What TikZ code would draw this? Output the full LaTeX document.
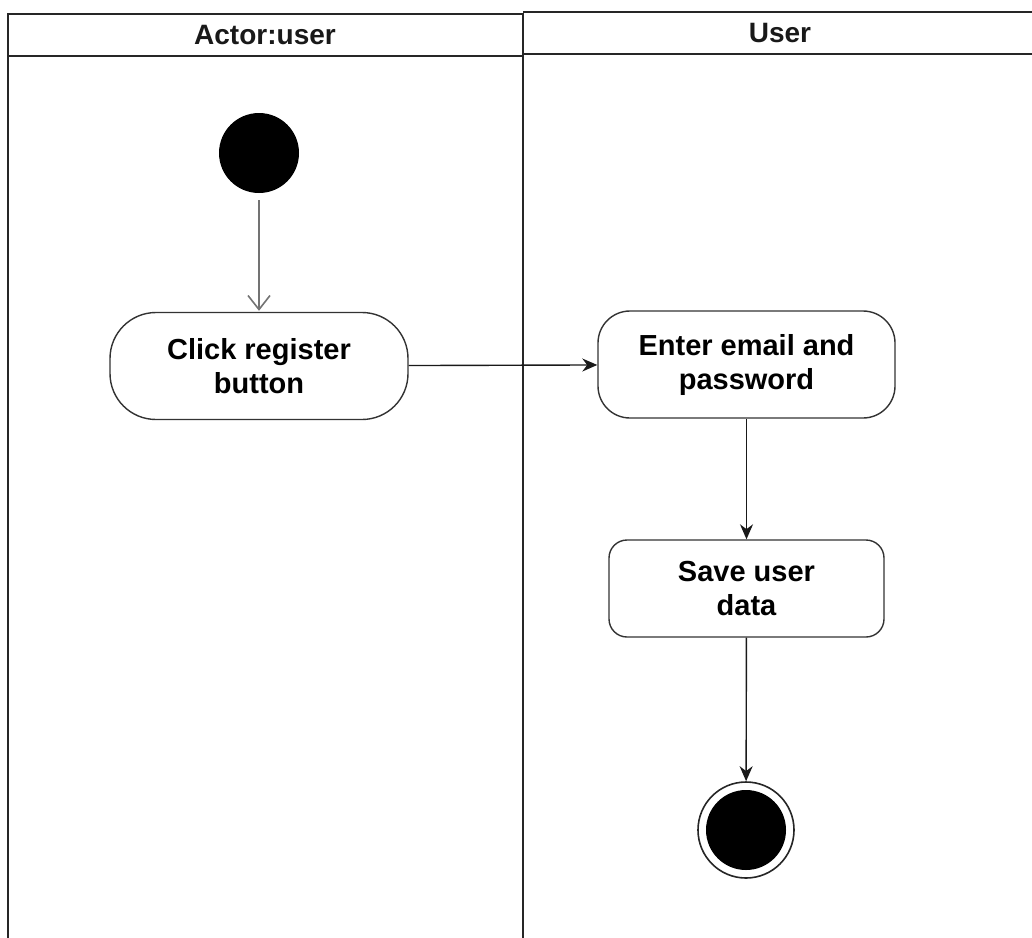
\documentclass[tikz,border=0pt]{standalone}
\usepackage{fontspec}
\setmainfont{Liberation Sans}
\usetikzlibrary{arrows.meta}

\tikzset{
  lane/.style={draw=black!85, line width=1.6pt},
  lanetitle/.style={font=\bfseries\fontsize{28}{32}\selectfont, text=black!90},
  action/.style={draw=black!80, line width=1.4pt, align=center,
    font=\bfseries\fontsize{29}{34}\selectfont, inner sep=0pt},
  flowin/.style={draw=black!90, line width=1.4pt, {Stealth[length=15pt,width=13pt]}-},
  openflowin/.style={draw=black!55, line width=1.6pt, {Straight Barb[length=14pt,width=22pt]}-, shorten <=1pt, shorten >=7pt},
}

\begin{document}
\begin{tikzpicture}[x=1pt, y=-1pt]
      \useasboundingbox (0, 0) rectangle (1032, 937);
      % swimlanes
      \draw[lane] (523, 941) -- (8, 941) -- (8, 14) -- (523, 14) -- (523, 941);
      \draw[lane] (8, 56) -- (523, 56);
      \draw[lane] (523, 12) -- (1036, 12);
      \draw[lane] (523, 54) -- (1036, 54);
      \node[lanetitle] (actorlane) at (265, 35) {Actor:user};
      \node[lanetitle] (userlane) at (780, 33) {User};
      % activities
      \node[circle, fill=black, minimum size=80pt, inner sep=0pt] (start) at (259, 153) {};
      \node[action, rounded corners=46pt, minimum width=298pt, minimum height=107pt] (click) at (259, 366) {Click register\\button} edge[openflowin] (start);
      \node[action, rounded corners=32pt, minimum width=297pt, minimum height=107pt] (enter) at (746.5, 364.5) {Enter email and\\password} edge[flowin] (click);
      \node[action, rounded corners=18pt, minimum width=275pt, minimum height=97pt] (save) at (746.5, 588.5) {Save user\\data} edge[flowin] (enter);
      \node[circle, draw=black!85, line width=1.6pt, minimum size=96pt, inner sep=0pt] (stop) at (746, 830) {} edge[flowin] (save);
      \fill[black] (stop.center) circle (40pt);
    \end{tikzpicture}
\end{document}
